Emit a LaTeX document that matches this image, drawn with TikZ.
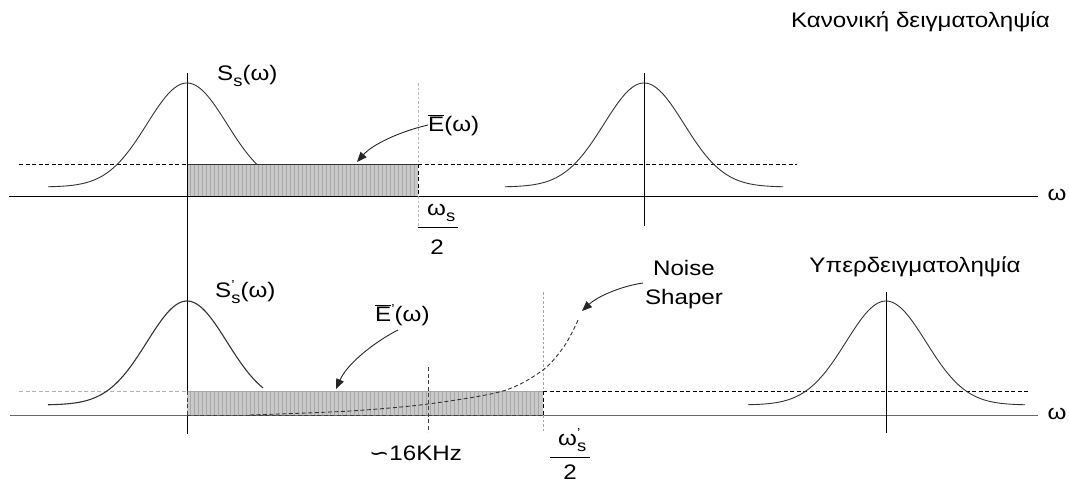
\documentclass[tikz,border=0pt]{standalone}
\usepackage{fontspec}
\setmainfont{Liberation Sans}[FakeStretch=1.15]
\newfontfamily\symfont{DejaVu Sans}[FakeStretch=1.15]
\usetikzlibrary{arrows.meta}
\newcommand{\mysub}[1]{\raisebox{-0.5ex}{\fontsize{16}{16}\selectfont #1}}
\newcommand{\myprime}{\raisebox{0.75ex}{\fontsize{13}{13}\selectfont '}}
\newcommand{\barE}{$\overline{\hbox{E}}$}
\tikzset{
  lbl/.style={font=\fontsize{21}{29}\selectfont, inner sep=0pt},
  gauss/.style={line width=0.9pt, black!80},
  axisline/.style={line width=1pt},
  arr/.style={line width=0.9pt, black!85, -{Triangle[length=10pt,width=8pt]}},
  dashblack/.style={line width=0.9pt, dash pattern=on 4pt off 2.5pt},
  dashgrey/.style={line width=0.9pt, gray!60, dash pattern=on 4pt off 2.5pt},
  dotgrey/.style={line width=0.9pt, gray!55, dash pattern=on 2.5pt off 2pt},
  hatchfill/.style={fill=gray!42},
  hatchline/.style={gray!68, line width=0.8pt},
}
\begin{document}
\begin{tikzpicture}[x=1pt,y=-1pt]
\useasboundingbox (0,0) rectangle (1069,482);

% ---------- top plot ----------
\fill[hatchfill] (187,164) rectangle (418,196);
\foreach \x in {190,194,...,416} \draw[hatchline] (\x,164) -- (\x,196);
\draw[line width=1pt, black!80] (187,164) -- (418,164);
\draw[dashblack] (418,164) -- (418,196);
\draw[dashblack] (19,164) -- (187,164);
\draw[dashblack] (418,164) -- (797,164);
\draw[axisline] (9,196) -- (1038,196);
\node[lbl] (w1) at (1057,195) {ω};
\draw[axisline] (187,73) -- (187,434);
\draw[axisline] (644,73) -- (644,226);
\draw[dotgrey] (418,83) -- (418,164);
\draw[dotgrey] (418,196) -- (418,227);
\draw[gauss] plot[domain=48:257, samples=90] (\x, {187 - 104*exp(-0.5*((\x-187)/40)^2)});
\draw[gauss] plot[domain=505:783, samples=110] (\x, {187 - 104*exp(-0.5*((\x-644)/40)^2)});
\node[lbl, anchor=west] (Ss) at (217,76) {S\mysub{s}(ω)};
\node[lbl, anchor=west] (Eb) at (428,125) {\barE(ω)};
\coordinate (Etip) at (357,162);
\draw[arr] (Eb.west) .. controls (398,132) and (372,145) .. (Etip);
\node[lbl, anchor=west] (ws) at (427,213) {ω\mysub{s}};
\draw[line width=1pt] (418,227) -- (458,227);
\node[lbl] (two1) at (437,247) {2};
\node[lbl, anchor=east] (kan) at (1050,22) {Κανονική δειγματοληψία};

% ---------- bottom plot ----------
\fill[hatchfill] (187,391) rectangle (543,415);
\foreach \x in {190,194,...,541} \draw[hatchline] (\x,391) -- (\x,415);
\draw[line width=1pt, gray!70] (187,391) -- (543,391);
\draw[axisline, black!60] (10,415) -- (1038,415);
\node[lbl] (w2) at (1057,414) {ω};
\draw[dashblack, black!75] (187,415) -- (543,415);
\draw[dashblack, black!75] (187,391) -- (187,415);
\draw[dashblack] (543,391) -- (543,415);
\draw[dashgrey] (19,391) -- (187,391);
\draw[dashblack] (543,391) -- (1028,391);
\draw[axisline] (886,292) -- (886,433);
\draw[dotgrey, gray!70] (543,292) -- (543,391);
\draw[dotgrey, gray!70] (543,415) -- (543,433);
\draw[dashblack, black!75] (428,367) -- (428,432);
\draw[gauss, line width=1.1pt] plot[domain=48:263, samples=90] (\x, {405 - 104*exp(-0.5*((\x-187)/40)^2)});
\draw[gauss] plot[domain=748:1025, samples=110] (\x, {405 - 104*exp(-0.5*((\x-886)/40)^2)});
\draw[dashblack, black!80] plot[smooth] coordinates {(250,415) (350,411) (428,404) (503,391) (543,370) (565,345) (579,318)};
\node[lbl, anchor=west] (Ss2) at (215,292) {S\rlap{\myprime}\mysub{s}(ω)};
\node[lbl, anchor=west] (Eb2) at (375,315) {\barE\myprime(ω)};
\coordinate (E2start) at (398,330);
\coordinate (E2tip) at (336,389);
\draw[arr] (E2start) .. controls (378,340) and (348,362) .. (E2tip);
\node[lbl, align=center] (noise) at (684,285) {Noise\\Shaper};
\coordinate (Nstart) at (643,283);
\coordinate (Ntip) at (582,311);
\draw[arr] (Nstart) .. controls (622,286) and (598,296) .. (Ntip);
\node[lbl] (yper) at (915,267) {Υπερδειγματοληψία};
\node[lbl, anchor=west] (khz) at (369,453) {{\symfont ∽}16KHz};
\node[lbl, anchor=west] (ws2) at (558,440) {ω\rlap{\myprime}\mysub{s}};
\draw[line width=1pt] (550,457) -- (590,457);
\node[lbl] (two2) at (570,472) {2};
\end{tikzpicture}
\end{document}
